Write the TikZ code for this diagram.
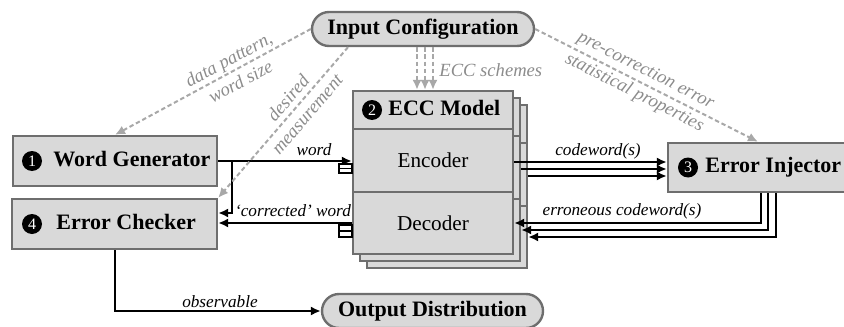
\documentclass[tikz,border=0pt]{standalone}
\usepackage{fontspec}
\setmainfont{Liberation Serif}
\usetikzlibrary{arrows.meta}
\definecolor{boxfill}{HTML}{D9D9D9}
\definecolor{boxline}{HTML}{6E6E6E}
\definecolor{dashgray}{HTML}{A8A8A8}
\definecolor{lblgray}{HTML}{8C8C8C}
\begin{document}
\begin{tikzpicture}[x=0.5pt,y=-0.5pt,
  box/.style={draw=boxline, line width=1.2pt, fill=boxfill, rectangle, inner sep=0pt},
  pill/.style={box, rounded corners=8.5pt, font=\fontsize{11}{13}\selectfont\bfseries},
  conn/.style={draw=black, line width=1pt, -{Latex[length=5pt,width=4.6pt]}},
  dsh/.style={draw=dashgray, line width=1pt, dash pattern=on 2.2pt off 1.4pt, -{Latex[length=5pt,width=4.6pt]}},
  glbl/.style={text=lblgray, font=\fontsize{9.3}{12.5}\selectfont\itshape, inner sep=0.5pt},
  blbl/.style={text=black, font=\fontsize{8.6}{10}\selectfont\itshape, inner sep=1pt},
  ttl/.style={font=\fontsize{11}{13}\selectfont\bfseries, inner sep=0pt},
  plain/.style={font=\fontsize{10.6}{12}\selectfont, inner sep=0pt},
  num/.style={circle, fill=black, text=white, inner sep=0pt, minimum size=10pt, font=\fontsize{8}{8}\selectfont}
]
\clip (0,0) rectangle (844,326);

% pills
\node[pill, minimum width=111pt, minimum height=17pt] (ic) at (423,29) {Input Configuration};
\node[pill, minimum width=110.5pt, minimum height=17pt] (od) at (432.5,311) {Output Distribution};

% word generator
\node[box, minimum width=102pt, minimum height=25pt] (wg) at (115,161) {};
\node[num] (n1) at (32,161) {1};
\node[ttl, anchor=mid west] (wgt) at (53,161.5) {Word Generator};

% error checker
\node[box, minimum width=102.5pt, minimum height=25pt] (ec) at (114.5,224) {};
\node[num] (n4) at (32,224) {4};
\node[ttl, anchor=mid west] (ect) at (56,224.5) {Error Checker};

% error injector
\node[box, minimum width=96pt, minimum height=24.5pt] (ei) at (764,167.5) {};
\node[num] (n3) at (688,167.5) {3};
\node[ttl, anchor=mid west] (eit) at (705,168) {Error Injector};

% ECC model stack
\foreach \o in {14,7,0} {
  \node[box, minimum width=80pt, minimum height=19pt] (hdr\o) at (433+\o,110+\o) {};
  \node[box, minimum width=80pt, minimum height=31.5pt] (enc\o) at (433+\o,160.5+\o) {};
  \node[box, minimum width=80pt, minimum height=31pt] (dec\o) at (433+\o,223+\o) {};
}
\node[num] (n2) at (372,110) {2};
\node[ttl, anchor=mid west] (hdrt) at (388,110.5) {ECC Model};
\node[plain] (enct) at (enc0) {Encoder};
\node[plain] (dect) at (dec0) {Decoder};

% black connectors
\draw[conn] (wg.east) -- (wg.east -| enc0.west);
\node[blbl] (lw) at (314,150) {word};
\coordinate (br) at (232,161);
\draw[conn] (br) |- ([yshift=5.5pt]ec.east);
\draw[conn] (dec0.west) -- (dec0.west -| ec.east);
\node[blbl] (lcw) at (293,211) {`corrected' word};

\draw[line width=0.8pt, fill=white] (339,164) rectangle (352,168.5) (339,168.5) rectangle (352,173);
\draw[line width=0.8pt, fill=white] (339,225) rectangle (352,231) (339,231) rectangle (352,237);

\foreach \o in {0,7,14}
  \draw[conn] ([yshift=-0.75pt]enc\o.east) -- ([yshift=-0.75pt]enc\o.east -| ei.west);
\node[blbl] (lcd) at (598,151) {codeword(s)};

\draw[conn] ([xshift=-1.5pt]ei.south) |- (dec0.east);
\draw[conn] ([xshift=2pt]ei.south) |- (dec7.east);
\draw[conn] ([xshift=6pt]ei.south) |- (dec14.east);
\node[blbl] (lec) at (622,211) {erroneous codeword(s)};

\draw[conn] (ec.south) |- (od.west);
\node[blbl] (lob) at (220,302) {observable};

% dashed configuration arrows
\draw[dsh] (ic.west) -- (wg.north)
  node[glbl, pos=0.39, sloped, align=center] (ldp) {data pattern,\\word size};
\draw[dsh] ([xshift=-37.5pt]ic.south) -- (ec.north east)
  node[glbl, pos=0.39, sloped, align=center] (ldm) {desired\\measurement};
\foreach \s in {-3,1,5}
  \draw[dsh] ([xshift=\s pt]ic.south) -- ([xshift=\s pt]ic.south |- hdr0.north);
\node[glbl, anchor=west] (les) at (438,70) {ECC schemes};
\draw[dsh] (ic.east) -- ([xshift=-3pt]ei.north)
  node[glbl, pos=0.47, sloped, align=center] (lpc) {pre-correction error\\statistical properties};
\end{tikzpicture}
\end{document}
